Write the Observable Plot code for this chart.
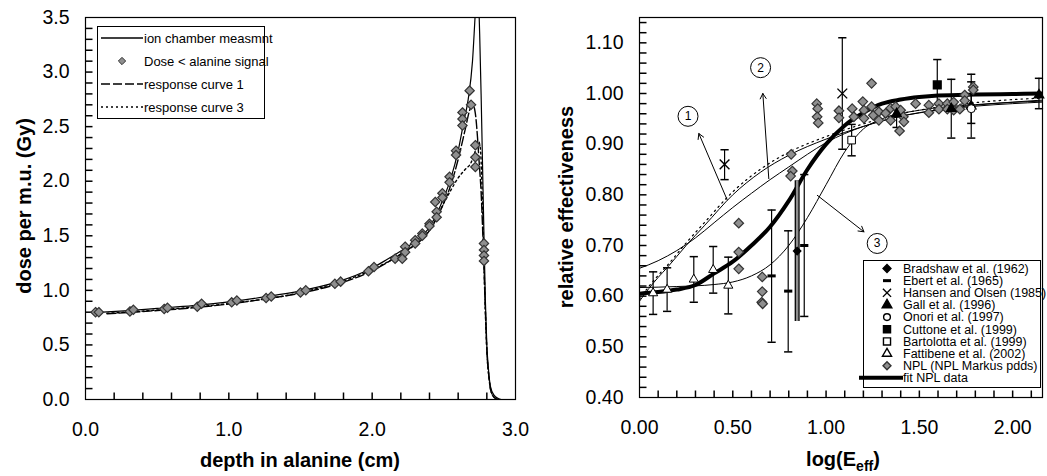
<!DOCTYPE html>
<html><head><meta charset="utf-8">
<script src="https://cdn.jsdelivr.net/npm/d3@7"></script>
<script src="https://cdn.jsdelivr.net/npm/@observablehq/plot@0.6"></script>
<style>
body{margin:0;background:#fff;}
#wrap{position:relative;width:1047px;height:476px;font-family:"Liberation Sans",Arial,sans-serif;}
#left{position:absolute;left:0;top:0;z-index:2;}
#right{position:absolute;left:520px;top:0;z-index:1;}
#overlay{position:absolute;left:0;top:0;pointer-events:none;z-index:3;}
svg{overflow:visible;}
</style></head><body>
<div id="wrap"><div id="left"></div><div id="right"></div><svg id="overlay" width="1047" height="476"></svg></div>
<script>
// ---------- LEFT PANEL DATA ----------
const leftXTicks = [0, 1, 2, 3];
const leftXMinor = [0.2,0.4,0.6,0.8,1.0,1.2,1.4,1.6,1.8,2.0,2.2,2.4,2.6,2.8];
const leftYTicks = [0, 0.5, 1.0, 1.5, 2.0, 2.5, 3.0, 3.5];
const leftYMinor = [0.1,0.2,0.3,0.4,0.5,0.6,0.7,0.8,0.9,1.0,1.1,1.2,1.3,1.4,1.5,1.6,1.7,1.8,1.9,2.0,2.1,2.2,2.3,2.4,2.5,2.6,2.7,2.8,2.9,3.0,3.1,3.2,3.3,3.4];

const ionX = [0.12,0.3,0.5,0.75,1.0,1.25,1.5,1.75,2.0,2.1,2.2,2.3,2.4,2.5,2.55,2.6,2.64,2.67,2.70,2.72,2.735,2.75,2.76,2.77,2.78,2.79,2.80,2.81,2.825,2.85,2.88,2.9];
const ionY = [0.80,0.815,0.835,0.86,0.895,0.94,0.995,1.075,1.205,1.28,1.36,1.45,1.58,1.85,2.03,2.28,2.55,2.75,3.1,3.55,3.85,3.35,2.8,2.15,1.5,0.9,0.5,0.3,0.12,0.04,0.01,0.0];

const resp1X = [0.15,0.5,0.75,1.0,1.25,1.5,1.75,2.0,2.2,2.4,2.45,2.5,2.55,2.6,2.65,2.68,2.70,2.72,2.735,2.745,2.76,2.775,2.79,2.80,2.815,2.83,2.86,2.88];
const resp1Y = [0.785,0.815,0.84,0.875,0.92,0.975,1.055,1.18,1.335,1.55,1.66,1.80,1.97,2.2,2.48,2.65,2.71,2.62,2.40,2.2,1.9,1.4,0.8,0.45,0.2,0.07,0.01,0.0];

const resp3X = [0.15,0.5,1.0,1.5,2.0,2.2,2.3,2.4,2.5,2.55,2.6,2.65,2.69,2.72,2.74,2.755,2.765,2.775,2.79,2.80,2.815,2.83,2.86,2.88];
const resp3Y = [0.79,0.82,0.88,0.98,1.19,1.33,1.42,1.55,1.80,1.92,2.03,2.11,2.17,2.28,2.37,2.3,2.0,1.5,0.8,0.45,0.2,0.07,0.01,0.0];

const nplLeftX = [0.07,0.093,0.31,0.334,0.549,0.572,0.78,0.81,1.02,1.056,1.26,1.296,1.50,1.537,1.74,1.78,1.974,2.013,2.16,2.21,2.23,2.23,2.30,2.30,2.35,2.35,2.40,2.40,2.44,2.45,2.45,2.49,2.49,2.54,2.54,2.585,2.585,2.63,2.63,2.63,2.68,2.69,2.72,2.72,2.72,2.78,2.78,2.78,2.78];
const nplLeftY = [0.80,0.80,0.807,0.822,0.83,0.84,0.85,0.877,0.89,0.907,0.93,0.944,0.98,1.0,1.06,1.08,1.176,1.213,1.29,1.29,1.40,1.35,1.46,1.43,1.52,1.50,1.61,1.59,1.81,1.72,1.67,1.89,1.85,2.04,1.99,2.28,2.24,2.63,2.57,2.51,2.83,2.70,2.33,2.22,2.13,1.43,1.37,1.32,1.27];

const leftLegendLabels = ["ion chamber measmnt", "Dose < alanine signal", "response curve 1", "response curve 3"];
const leftXTitle = "depth in alanine (cm)";
const leftYTitle = "dose per m.u. (Gy)";

// ---------- RIGHT PANEL DATA ----------
const rightXTicks = [0, 0.5, 1.0, 1.5, 2.0];
const rightXMinor = [0.1,0.2,0.3,0.4,0.5,0.6,0.7,0.8,0.9,1.0,1.1,1.2,1.3,1.4,1.5,1.6,1.7,1.8,1.9,2.0,2.1];
const rightYTicks = [0.4, 0.5, 0.6, 0.7, 0.8, 0.9, 1.0, 1.1];
const rightYMinor = [0.42,0.44,0.46,0.48,0.5,0.52,0.54,0.56,0.58,0.6,0.62,0.64,0.66,0.68,0.7,0.72,0.74,0.76,0.78,0.8,0.82,0.84,0.86,0.88,0.9,0.92,0.94,0.96,0.98,1.0,1.02,1.04,1.06,1.08,1.1,1.12,1.14];

const fitX = [0,0.1,0.2,0.3,0.4,0.5,0.6,0.7,0.8,0.9,1.0,1.1,1.2,1.3,1.4,1.5,1.6,1.8,2.0,2.16];
const fitY = [0.605,0.608,0.613,0.622,0.645,0.668,0.70,0.737,0.788,0.85,0.90,0.937,0.962,0.98,0.988,0.993,0.996,0.998,0.999,1.0];

const curve1X = [0,0.05,0.1,0.15,0.25,0.35,0.5,0.65,0.8,1.0,1.2,1.4,1.6,1.8,2.0,2.16];
const curve1Y = [0.59,0.615,0.637,0.657,0.70,0.74,0.80,0.845,0.878,0.91,0.935,0.955,0.968,0.977,0.983,0.987];
const curve1DotY = [0.594,0.619,0.641,0.661,0.705,0.746,0.806,0.851,0.884,0.915,0.94,0.96,0.973,0.982,0.988,0.991];

const curve2X = [0,0.1,0.2,0.3,0.4,0.5,0.6,0.7,0.8,0.9,1.0,1.2,1.4,1.6,1.8,2.0,2.16];
const curve2Y = [0.655,0.67,0.69,0.715,0.745,0.775,0.803,0.83,0.855,0.88,0.903,0.935,0.955,0.967,0.975,0.98,0.983];

const curve3X = [0,0.2,0.4,0.5,0.6,0.7,0.8,0.9,1.0,1.1,1.2,1.3,1.5,1.8,2.16];
const curve3Y = [0.617,0.619,0.623,0.628,0.64,0.662,0.70,0.755,0.82,0.885,0.93,0.95,0.967,0.978,0.985];

const nplX = [0.532,0.532,0.532,0.658,0.658,0.655,0.66,0.813,0.819,0.81,0.95,0.955,0.952,0.958,1.069,1.069,1.14,1.149,1.197,1.203,1.203,1.244,1.244,1.253,1.283,1.283,1.319,1.346,1.346,1.373,1.40,1.414,1.417,1.394,1.48,1.551,1.551,1.605,1.605,1.65,1.65,1.684,1.684,1.717,1.743,1.743,1.775,1.789,1.789];
const nplY = [0.744,0.687,0.654,0.638,0.609,0.588,0.585,0.880,0.847,0.837,0.98,0.97,0.954,0.942,0.966,0.952,0.97,0.954,0.984,0.967,0.951,1.02,0.974,0.957,0.964,0.947,0.961,0.971,0.947,0.974,0.967,0.954,0.944,0.926,0.98,0.977,0.962,0.98,0.969,0.98,0.969,0.983,0.967,0.969,0.997,0.986,0.974,1.013,1.007];

const fattX = [0.073,0.148,0.291,0.395,0.476];
const fattY = [0.606,0.613,0.633,0.652,0.621];
const fattErr = [0.042,0.043,0.045,0.046,0.056];

const ebertX = [0.708,0.797,0.883];
const ebertY = [0.640,0.610,0.700];
const ebertLo = [0.509,0.490,0.560];
const ebertHi = [0.770,0.729,0.840];

const bradX = [0.845];
const bradY = [0.689];
const bradLo = [0.55];
const bradHi = [0.828];

const hansenX = [0.456,1.087];
const hansenY = [0.860,1.000];
const hansenLo = [0.830,0.890];
const hansenHi = [0.889,1.110];

const gallX = [1.378,1.671,1.778,2.141];
const gallY = [0.960,0.970,0.975,0.997];
const gallLo = [0.933,0.912,0.912,0.970];
const gallHi = [0.987,1.028,1.038,1.030];

const onoriX = [1.778];
const onoriY = [0.970];
const onoriLo = [0.941];
const onoriHi = [1.023];

const cuttoneX = [1.596];
const cuttoneY = [1.017];
const cuttoneLo = [0.967];
const cuttoneHi = [1.067];

const bartX = [1.137];
const bartY = [0.908];
const bartLo = [0.877];
const bartHi = [0.939];

const annLabels = ["1", "2", "3"];
const annX = [0.26, 0.649, 1.274];
const annY = [0.955, 1.051, 0.704];
const arrowX1 = [0.47, 0.693, 0.953];
const arrowY1 = [0.79, 0.832, 0.799];
const arrowX2 = [0.318, 0.661, 1.203];
const arrowY2 = [0.921, 1.0, 0.727];

const rightLegendLabels = ["Bradshaw et al. (1962)", "Ebert et al. (1965)", "Hansen and Olsen (1985)", "Gall et al. (1996)", "Onori et al. (1997)", "Cuttone et al. (1999)", "Bartolotta et al. (1999)", "Fattibene et al. (2002)", "NPL (NPL Markus pdds)", "fit NPL data"];
const rightYTitle = "relative effectiveness";

// ---------- helpers ----------
const FONT = '"Liberation Sans", Arial, sans-serif';
const TICKFONT = 19.5;
const TICKLEN = 7;
const zipXY = (xs, ys) => xs.map((x, i) => ({x, y: ys[i]}));
const zipErr = (xs, ys, lo, hi) => xs.map((x, i) => ({x, y: ys[i], lo: lo[i], hi: hi[i]}));
const CAP = 0.022;
function errorBars(data) {
  return [
    Plot.ruleX(data, {x: "x", y1: "lo", y2: "hi", stroke: "black", strokeWidth: 1.2}),
    Plot.link(data, {x1: d => d.x - CAP, x2: d => d.x + CAP, y1: "lo", y2: "lo", stroke: "black", strokeWidth: 1.5}),
    Plot.link(data, {x1: d => d.x - CAP, x2: d => d.x + CAP, y1: "hi", y2: "hi", stroke: "black", strokeWidth: 1.5})
  ];
}
// inward minor ticks as short links in data space (length TICKLEN px converted to data units)
function minorTicks(xMinor, yMinor, xDom, yDom, frameW, frameH) {
  const ux = TICKLEN * (xDom[1] - xDom[0]) / frameW;
  const uy = TICKLEN * (yDom[1] - yDom[0]) / frameH;
  const xt = xMinor.map(v => ({a: v, b: v, c: yDom[0], d: yDom[0] + uy}));
  const yt = yMinor.map(v => ({a: xDom[0], b: xDom[0] + ux, c: v, d: v}));
  return [
    Plot.link(xt, {x1: "a", x2: "b", y1: "c", y2: "d", stroke: "black", strokeWidth: 1.5}),
    Plot.link(yt, {x1: "a", x2: "b", y1: "c", y2: "d", stroke: "black", strokeWidth: 1.5})
  ];
}

// ---------- LEFT PLOT ----------
const LW = 520, LH = 476, LML = 85, LMR = 5, LMT = 17, LMB = 77;
const lXDom = [0, 3], lYDom = [0, 3.5];
const leftPlot = Plot.plot({
  width: LW, height: LH, marginLeft: LML, marginRight: LMR, marginTop: LMT, marginBottom: LMB,
  style: {fontFamily: FONT, fontSize: TICKFONT + "px", color: "black", overflow: "visible"},
  x: {domain: lXDom},
  y: {domain: lYDom},
  marks: [
    Plot.axisX(leftXTicks, {tickFormat: d3.format(".1f"), tickSize: 0, tickPadding: 23, label: null, fontSize: TICKFONT}),
    Plot.axisY(leftYTicks, {tickFormat: d3.format(".1f"), tickSize: 0, tickPadding: 16, label: null, fontSize: TICKFONT}),
    ...minorTicks(leftXMinor, leftYMinor, lXDom, lYDom, LW - LML - LMR, LH - LMT - LMB),
    Plot.line(zipXY(resp3X, resp3Y), {x: "x", y: "y", stroke: "black", strokeWidth: 1.4, strokeDasharray: "2,3", curve: "monotone-x", clip: true}),
    Plot.line(zipXY(resp1X, resp1Y), {x: "x", y: "y", stroke: "black", strokeWidth: 1.4, strokeDasharray: "9,3", curve: "monotone-x", clip: true}),
    Plot.line(zipXY(ionX, ionY), {x: "x", y: "y", stroke: "black", strokeWidth: 1.2, curve: "monotone-x", clip: true}),
    Plot.dot(zipXY(nplLeftX, nplLeftY), {x: "x", y: "y", symbol: "diamond2", r: 4.2, fill: "#8f8f8f", stroke: "#333", strokeWidth: 1.2}),
    Plot.frame({stroke: "black", strokeWidth: 1.2})
  ]
});
document.getElementById("left").appendChild(leftPlot);

// ---------- RIGHT PLOT ----------
const RW = 527, RH = 476, RML = 119, RMR = 5, RMT = 17, RMB = 79;
const rXDom = [0, 2.16], rYDom = [0.4, 1.15];
const annData = annX.map((x, i) => ({x, y: annY[i], t: annLabels[i]}));
const rightPlot = Plot.plot({
  width: RW, height: RH, marginLeft: RML, marginRight: RMR, marginTop: RMT, marginBottom: RMB,
  style: {fontFamily: FONT, fontSize: TICKFONT + "px", color: "black", overflow: "visible"},
  x: {domain: rXDom},
  y: {domain: rYDom},
  marks: [
    Plot.axisX(rightXTicks, {tickFormat: d3.format(".2f"), tickSize: 0, tickPadding: 23, label: null, fontSize: TICKFONT}),
    Plot.axisY(rightYTicks, {tickFormat: d3.format(".2f"), tickSize: 0, tickPadding: 16, label: null, fontSize: TICKFONT}),
    ...minorTicks(rightXMinor, rightYMinor, rXDom, rYDom, RW - RML - RMR, RH - RMT - RMB),
    Plot.line(zipXY(curve1X, curve1DotY), {x: "x", y: "y", stroke: "black", strokeWidth: 1.2, strokeDasharray: "1.5,4", curve: "monotone-x", clip: true}),
    Plot.line(zipXY(curve1X, curve1Y), {x: "x", y: "y", stroke: "black", strokeWidth: 1, curve: "monotone-x", clip: true}),
    Plot.line(zipXY(curve2X, curve2Y), {x: "x", y: "y", stroke: "black", strokeWidth: 1, curve: "monotone-x", clip: true}),
    Plot.line(zipXY(curve3X, curve3Y), {x: "x", y: "y", stroke: "black", strokeWidth: 1, curve: "monotone-x", clip: true}),
    Plot.line(zipXY(fitX, fitY), {x: "x", y: "y", stroke: "black", strokeWidth: 4, curve: "monotone-x", clip: true}),
    Plot.arrow(arrowX1.map((x, i) => ({x1: x, y1: arrowY1[i], x2: arrowX2[i], y2: arrowY2[i]})), {x1: "x1", y1: "y1", x2: "x2", y2: "y2", stroke: "black", strokeWidth: 1, headLength: 9}),
    ...errorBars(zipErr(fattX, fattY, fattX.map((x, i) => fattY[i] - fattErr[i]), fattX.map((x, i) => fattY[i] + fattErr[i]))),
    ...errorBars(zipErr(ebertX, ebertY, ebertLo, ebertHi)),
    Plot.ruleX(zipErr(bradX, bradY, bradLo, bradHi), {x: "x", y1: "lo", y2: "hi", stroke: "black", strokeWidth: 5}),
    Plot.ruleX(zipErr(bradX, bradY, bradLo, bradHi), {x: "x", y1: "lo", y2: "hi", stroke: "#8f8f8f", strokeWidth: 2.5}),
    ...errorBars(zipErr(hansenX, hansenY, hansenLo, hansenHi)),
    ...errorBars(zipErr(gallX, gallY, gallLo, gallHi)),
    ...errorBars(zipErr(onoriX, onoriY, onoriLo, onoriHi)),
    ...errorBars(zipErr(cuttoneX, cuttoneY, cuttoneLo, cuttoneHi)),
    ...errorBars(zipErr(bartX, bartY, bartLo, bartHi)),
    Plot.dot(zipXY(nplX, nplY), {x: "x", y: "y", symbol: "diamond2", r: 4.3, fill: "#8f8f8f", stroke: "#333", strokeWidth: 1.2}),
    Plot.dot(zipXY(fattX, fattY), {x: "x", y: "y", symbol: "triangle", r: 3.4, fill: "white", stroke: "black", strokeWidth: 1}),
    Plot.link(zipXY(ebertX, ebertY), {x1: d => d.x - CAP, x2: d => d.x + CAP, y1: "y", y2: "y", stroke: "black", strokeWidth: 3}),
    Plot.dot(zipXY(bradX, bradY), {x: "x", y: "y", symbol: "diamond2", r: 3.2, fill: "black", stroke: "black"}),
    Plot.dot(zipXY(hansenX, hansenY), {x: "x", y: "y", symbol: "times", r: 4.5, stroke: "black", strokeWidth: 1.4}),
    Plot.dot(zipXY(gallX, gallY), {x: "x", y: "y", symbol: "triangle", r: 3.4, fill: "black", stroke: "black"}),
    Plot.dot(zipXY(onoriX, onoriY), {x: "x", y: "y", symbol: "circle", r: 4, fill: "white", stroke: "black", strokeWidth: 1}),
    Plot.dot(zipXY(cuttoneX, cuttoneY), {x: "x", y: "y", symbol: "square", r: 4.3, fill: "black", stroke: "black"}),
    Plot.dot(zipXY(bartX, bartY), {x: "x", y: "y", symbol: "square", r: 4.3, fill: "white", stroke: "black", strokeWidth: 1}),
    Plot.dot(annData, {x: "x", y: "y", r: 10, fill: "white", stroke: "black", strokeWidth: 1}),
    Plot.text(annData, {x: "x", y: "y", text: "t", fontSize: 12}),
    Plot.frame({stroke: "black", strokeWidth: 1.2})
  ]
});
document.getElementById("right").appendChild(rightPlot);

// ---------- overlay: titles, legends ----------
const ov = d3.select("#overlay").style("font-family", FONT);
ov.append("text").attr("x", 300).attr("y", 467).attr("text-anchor", "middle")
  .attr("font-weight", "bold").attr("font-size", 20).text(leftXTitle);
ov.append("text").attr("transform", "translate(24,206) rotate(-90)").attr("dy", "0.35em").attr("text-anchor", "middle")
  .attr("font-weight", "bold").attr("font-size", 20).text(leftYTitle);
ov.append("text").attr("transform", "translate(566,207) rotate(-90)").attr("dy", "0.35em").attr("text-anchor", "middle")
  .attr("font-weight", "bold").attr("font-size", 20).text(rightYTitle);
const xl = ov.append("text").attr("x", 843).attr("y", 466).attr("text-anchor", "middle")
  .attr("font-weight", "bold").attr("font-size", 20);
xl.append("tspan").text("log(E");
xl.append("tspan").attr("font-size", 14).attr("dy", 5).text("eff");
xl.append("tspan").attr("dy", -5).text(")");

// left legend
const LL = ov.append("g");
LL.append("rect").attr("x", 97.5).attr("y", 26.5).attr("width", 167).attr("height", 92).attr("fill", "white").attr("stroke", "black");
const llStyles = [
  {type: "line", dash: null},
  {type: "dot"},
  {type: "line", dash: "9,3"},
  {type: "line", dash: "2,3"}
];
leftLegendLabels.forEach((lab, i) => {
  const y = 38 + i * 23;
  const s = llStyles[i];
  if (s.type === "line") {
    LL.append("line").attr("x1", 101).attr("x2", 143).attr("y1", y).attr("y2", y)
      .attr("stroke", "black").attr("stroke-width", 1.4).attr("stroke-dasharray", s.dash);
  } else {
    LL.append("path").attr("d", d3.symbol(d3.symbolDiamond2, 34)()).attr("transform", `translate(122,${y})`)
      .attr("fill", "#8f8f8f").attr("stroke", "#333");
  }
  LL.append("text").attr("x", 144).attr("y", y).attr("dy", "0.35em").attr("font-size", 13).text(lab);
});

// right legend
const RL = ov.append("g");
RL.append("rect").attr("x", 863.5).attr("y", 260.5).attr("width", 177).attr("height", 127).attr("fill", "white").attr("stroke", "black");
const sym = (type, size, fill, stroke) => ({type, size, fill, stroke});
const rlSymbols = [
  sym(d3.symbolDiamond2, 40, "black", "black"),
  "dash",
  sym(d3.symbolTimes, 45, "none", "black"),
  sym(d3.symbolTriangle, 40, "black", "black"),
  sym(d3.symbolCircle, 36, "white", "black"),
  sym(d3.symbolSquare, 50, "black", "black"),
  sym(d3.symbolSquare, 50, "white", "black"),
  sym(d3.symbolTriangle, 36, "white", "black"),
  sym(d3.symbolDiamond2, 40, "#8f8f8f", "#333"),
  "fit"
];
rightLegendLabels.forEach((lab, i) => {
  const y = 268.5 + i * 12.15;
  const s = rlSymbols[i];
  if (s === "dash") {
    RL.append("line").attr("x1", 883).attr("x2", 891).attr("y1", y).attr("y2", y).attr("stroke", "black").attr("stroke-width", 3);
  } else if (s === "fit") {
    RL.append("line").attr("x1", 859).attr("x2", 903).attr("y1", y).attr("y2", y).attr("stroke", "black").attr("stroke-width", 4);
  } else {
    RL.append("path").attr("d", d3.symbol(s.type, s.size)()).attr("transform", `translate(887,${y})`)
      .attr("fill", s.fill).attr("stroke", s.stroke).attr("stroke-width", 1.4);
  }
  RL.append("text").attr("x", 903).attr("y", y).attr("dy", "0.35em").attr("font-size", 12.5).text(lab);
});
</script></body></html>
